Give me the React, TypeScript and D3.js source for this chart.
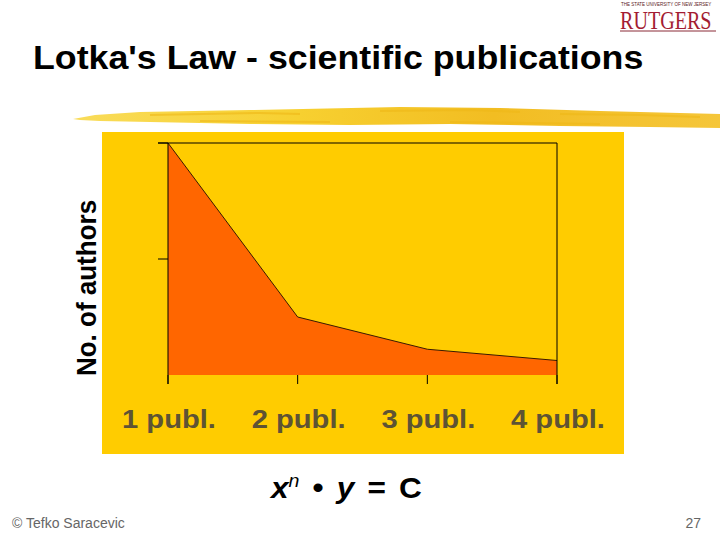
import React from "react";
import * as d3 from "d3";

const categories = ["1 publ.", "2 publ.", "3 publ.", "4 publ."];
const authors = [100, 25, 11.1, 6.25];
const yTicks = [50, 100];
const yDomain = [0, 100];

const W = 720;
const H = 540;
const SX = 1.09; // horizontal stretch of the original slide

export default function App() {
  const x = d3.scalePoint<string>().domain(categories).range([168, 557]);
  const y = d3.scaleLinear().domain(yDomain).range([375, 143]);
  const data = categories.map((c, i) => ({ c, v: authors[i] }));
  const area = d3
    .area<{ c: string; v: number }>()
    .x((d) => x(d.c) as number)
    .y0(y(0))
    .y1((d) => y(d.v));
  const line = d3
    .line<{ c: string; v: number }>()
    .x((d) => x(d.c) as number)
    .y((d) => y(d.v));

  const x0 = x(categories[0]) as number;
  const x1 = x(categories[categories.length - 1]) as number;
  const tickBottom = y(0) + 9;

  const brush =
    "M73,119 L95,115 L140,112 L250,110 L400,107 L500,108 L600,111 L720,114 L720,128 L650,127 L560,126 L450,124 L350,125 L250,124 L150,122 L100,121 L80,120 Z";
  const streaks = [
    "M150,115 L260,113 L300,114",
    "M380,111 L470,110 L520,112",
    "M560,114 L640,115 L700,117",
    "M200,121 L330,122",
    "M450,122 L600,124",
  ];

  return (
    <svg
      width={W}
      height={H}
      style={{ position: "absolute", left: 0, top: 0, background: "#fff" }}
      fontFamily="'Liberation Sans', Arial, sans-serif"
    >
      <defs>
        <linearGradient id="brushGrad" x1="0" x2="1" y1="0" y2="0">
          <stop offset="0" stopColor="#f9dc5a" />
          <stop offset="0.35" stopColor="#f7d030" />
          <stop offset="0.65" stopColor="#f2bd22" />
          <stop offset="1" stopColor="#f5c63a" />
        </linearGradient>
      </defs>
      <rect width={W} height={H} fill="#fff" />

      {/* Rutgers logo */}
      <g transform="translate(621,5.5) scale(1,1)">
        <text fontSize={4.5} fill="#5a1a22">
          THE STATE UNIVERSITY OF NEW JERSEY
        </text>
      </g>
      <g transform="translate(620,28.5) scale(0.82,1)">
        <text
          fontSize={24.5}
          fontFamily="'Liberation Serif', 'Times New Roman', serif"
          fill="#a31c32"
        >
          RUTGERS
        </text>
      </g>
      <line x1={620} x2={716} y1={31} y2={31} stroke="#8a2a36" strokeWidth={1} />

      {/* Title */}
      <g transform={`translate(33,69) scale(1.1,1)`}>
        <text fontSize={32.5} fontWeight="bold" fill="#000">
          Lotka's Law - scientific publications
        </text>
      </g>

      {/* Brush stroke */}
      <path d={brush} fill="url(#brushGrad)" />
      {streaks.map((s, i) => (
        <path key={i} d={s} fill="none" stroke="#efb818" strokeWidth={2} strokeOpacity={0.6} />
      ))}

      {/* Yellow panel */}
      <rect x={102} y={132} width={522} height={322} fill="#ffcc00" />

      {/* Area */}
      <path d={area(data) || ""} fill="#ff6600" />
      <path d={line(data) || ""} fill="none" stroke="#3a1a00" strokeWidth={1} />

      {/* Frame and axes */}
      <line x1={x0 - 10} x2={x1} y1={y(100)} y2={y(100)} stroke="#000" />
      <line x1={x0} x2={x0} y1={y(100)} y2={tickBottom} stroke="#000" />
      <line x1={x1} x2={x1} y1={y(100)} y2={tickBottom} stroke="#000" />
      {yTicks.map((t) => (
        <line key={t} x1={x0 - 10} x2={x0} y1={y(t)} y2={y(t)} stroke="#000" />
      ))}
      {categories.map((c) => (
        <line
          key={c}
          x1={x(c) as number}
          x2={x(c) as number}
          y1={y(0)}
          y2={tickBottom}
          stroke="#000"
        />
      ))}

      {/* Category labels */}
      {categories.map((c) => (
        <g key={c} transform={`translate(${(x(c) as number) + 1},428) scale(1.1,1)`}>
          <text fontSize={26.5} fontWeight="bold" fill="#5e5334" textAnchor="middle">
            {c}
          </text>
        </g>
      ))}

      {/* Y label */}
      <g transform={`translate(96,288) scale(${SX},1) rotate(-90)`}>
        <text fontSize={26} fontWeight="bold" fill="#000" textAnchor="middle">
          No. of authors
        </text>
      </g>

      {/* Formula */}
      <g transform={`translate(271,498) scale(${SX},1)`}>
        <text fontSize={29} fontWeight="bold" fill="#000">
          <tspan fontStyle="italic">x</tspan>
          <tspan fontStyle="italic" fontWeight="normal" fontSize={18} dy={-11}>n</tspan>
          <tspan dy={11} dx={12}>•</tspan>
          <tspan fontStyle="italic" dx={12}>y</tspan>
          <tspan dx={12}>=</tspan>
          <tspan dx={12}>C</tspan>
        </text>
      </g>

      {/* Footer */}
      <text x={12} y={528} fontSize={14} fill="#666">
        © Tefko Saracevic
      </text>
      <text x={701} y={528} fontSize={14} fill="#666" textAnchor="end">
        27
      </text>
    </svg>
  );
}
